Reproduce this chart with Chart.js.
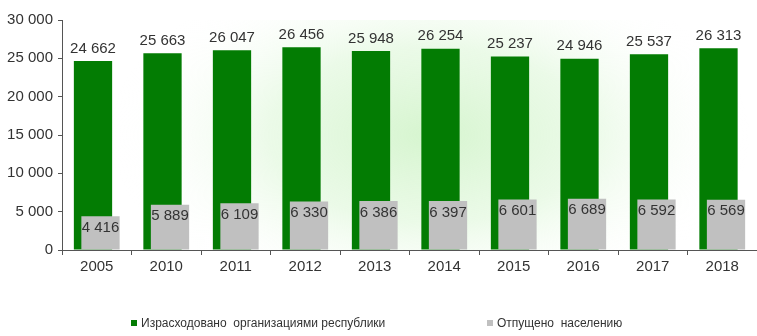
<!DOCTYPE html>
<html>
<head>
<meta charset="utf-8">
<script src="https://cdn.jsdelivr.net/npm/chart.js@4/dist/chart.umd.min.js"></script>
<style>
  body { margin: 0; background: #fff; }
  #wrap { position: relative; width: 757px; height: 336px; font-family: "Liberation Sans", Arial, sans-serif; }
  #legend { position: absolute; top: 315px; left: 0; width: 757px; height: 16px; font-size: 12px; color: #333; }
  .item { position: absolute; top: 0; white-space: pre; line-height: 16px; }
  .box { display: inline-block; width: 6px; height: 6px; margin-right: 4px; vertical-align: 1px; }
</style>
</head>
<body>
<div id="wrap">
  <canvas id="waterChart" width="757" height="336"></canvas>
  <div id="legend"></div>
</div>
<script>
const years = ['2005', '2010', '2011', '2012', '2013', '2014', '2015', '2016', '2017', '2018'];
const usedByOrgs = [24662, 25663, 26047, 26456, 25948, 26254, 25237, 24946, 25537, 26313];
const toPopulation = [4416, 5889, 6109, 6330, 6386, 6397, 6601, 6689, 6592, 6569];
const seriesNames = ['Израсходовано  организациями республики', 'Отпущено  населению'];
const seriesColors = ['#037c03', '#c0c0c0'];

const fmt = v => String(v).replace(/\B(?=(\d{3})+(?!\d))/g, ' ');
const FONT = '"Liberation Sans", Arial, sans-serif';
const TEXT = '#333';

// soft green glow behind the bars
const glow = {
  id: 'glow',
  beforeDatasetsDraw(chart) {
    const { ctx, chartArea: a } = chart;
    const cx = (a.left + a.right) / 2 + 20, cy = (a.top + a.bottom) / 2;
    ctx.save();
    ctx.beginPath();
    ctx.rect(a.left + 1, a.top, a.right - a.left, a.bottom - a.top);
    ctx.clip();
    ctx.translate(cx, cy);
    ctx.scale(1, 0.55);
    const g = ctx.createRadialGradient(0, 0, 0, 0, 0, 320);
    g.addColorStop(0, 'rgba(214,245,207,1)');
    g.addColorStop(0.5, 'rgba(230,249,226,0.8)');
    g.addColorStop(1, 'rgba(255,255,255,0)');
    ctx.fillStyle = g;
    ctx.fillRect(-400, -400, 800, 800);
    ctx.restore();
  }
};

// gray series sits to the right of the green one but is painted over it
const grayOnTop = {
  id: 'grayOnTop',
  beforeDatasetDraw(chart, args) {
    if (args.index === 1) return false;
  },
  afterDatasetsDraw(chart) {
    chart.getDatasetMeta(1).controller.draw();
  }
};

// value labels: above the green bars, inside the top of the gray ones
const valueLabels = {
  id: 'valueLabels',
  afterDatasetsDraw(chart) {
    const { ctx } = chart;
    ctx.save();
    ctx.font = '15px ' + FONT;
    ctx.fillStyle = TEXT;
    ctx.textAlign = 'center';
    chart.getDatasetMeta(0).data.forEach((bar, i) => {
      ctx.textBaseline = 'bottom';
      ctx.fillText(fmt(usedByOrgs[i]), bar.x, bar.y - 5);
    });
    chart.getDatasetMeta(1).data.forEach((bar, i) => {
      ctx.textBaseline = 'top';
      ctx.fillText(fmt(toPopulation[i]), bar.x, bar.y + 4);
    });
    ctx.restore();
  }
};

new Chart(document.getElementById('waterChart'), {
  type: 'bar',
  data: {
    labels: years,
    datasets: [
      { label: seriesNames[0], data: usedByOrgs, backgroundColor: seriesColors[0] },
      { label: seriesNames[1], data: toPopulation, backgroundColor: seriesColors[1] }
    ]
  },
  options: {
    responsive: false,
    animation: false,
    // the two bars of a year overlap, gray shifted a few px right
    categoryPercentage: 0.216,
    barPercentage: 5.1,
    layout: { padding: { top: 20, right: 0, left: 0, bottom: 0 } },
    plugins: { legend: { display: false }, tooltip: { enabled: false } },
    scales: {
      x: {
        afterFit: s => { s.height = 86; },
        grid: { drawOnChartArea: false, tickLength: 5, color: '#555' },
        border: { color: '#555' },
        ticks: { font: { size: 15, family: FONT }, color: TEXT, padding: 3 }
      },
      y: {
        min: 0, max: 30000,
        afterFit: s => { s.width = 62; },
        grid: { drawOnChartArea: false, tickLength: 4, color: '#555' },
        border: { color: '#555' },
        ticks: { stepSize: 5000, font: { size: 15, family: FONT }, color: TEXT, padding: 5, callback: v => fmt(v) }
      }
    }
  },
  plugins: [glow, grayOnTop, valueLabels]
});

// legend below the chart
const legendX = [131, 487];
const legend = document.getElementById('legend');
seriesNames.forEach((name, i) => {
  const el = document.createElement('div');
  el.className = 'item';
  el.style.left = legendX[i] + 'px';
  el.innerHTML = '<span class="box" style="background:' + seriesColors[i] + '"></span>' + name;
  legend.appendChild(el);
});
</script>
</body>
</html>
